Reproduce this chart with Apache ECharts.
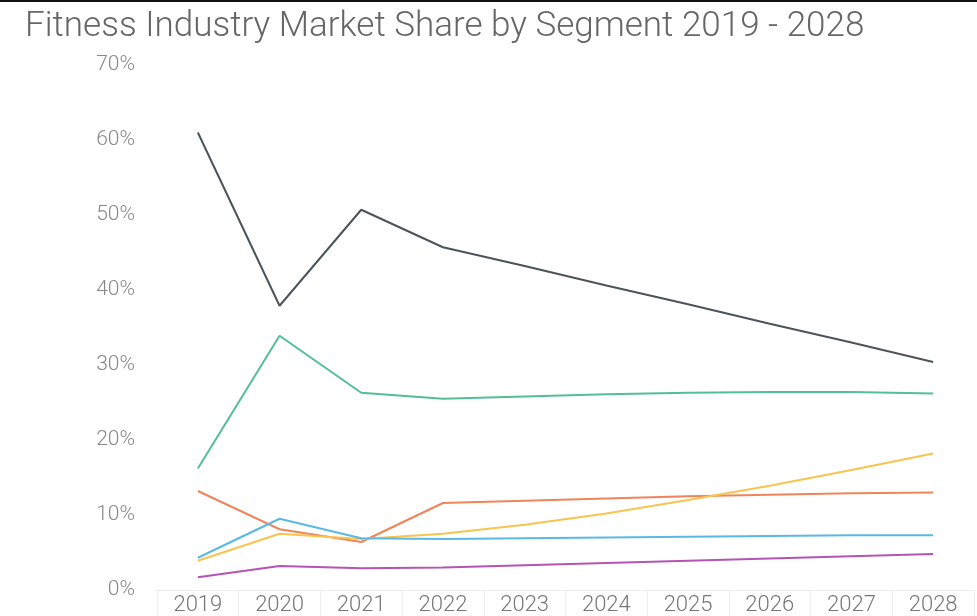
<!DOCTYPE html>
<html>
<head>
<meta charset="utf-8">
<script src="https://cdn.jsdelivr.net/npm/echarts@6/dist/echarts.min.js"></script>
<style>
  html, body { margin: 0; padding: 0; background: #fff; }
  body { border-top: 2px solid #111; }
  #main { width: 977px; height: 614px; }
</style>
</head>
<body>
<div id="main"></div>
<script>
// years on the x axis
const years = ['2019', '2020', '2021', '2022', '2023', '2024', '2025', '2026', '2027', '2028'];
// market share, percent
const darkSeg   = [61.0, 37.9, 50.7, 45.7, 43.2, 40.6, 38.1, 35.5, 33.0, 30.4];
const greenSeg  = [16.2, 33.9, 26.3, 25.5, 25.8, 26.1, 26.3, 26.4, 26.4, 26.2];
const orangeSeg = [13.2, 8.1, 6.4, 11.6, 11.9, 12.2, 12.5, 12.7, 12.9, 13.0];
const yellowSeg = [3.9, 7.5, 6.8, 7.5, 8.7, 10.2, 12.0, 13.9, 16.0, 18.2];
const blueSeg   = [4.3, 9.5, 6.9, 6.8, 6.9, 7.0, 7.1, 7.2, 7.3, 7.3];
const purpleSeg = [1.7, 3.2, 2.9, 3.0, 3.3, 3.6, 3.9, 4.2, 4.5, 4.8];

var chart = echarts.init(document.getElementById('main'));

const line = (name, data, color) => ({
    name: name,
    type: 'line',
    data: data,
    symbol: 'none',
    lineStyle: { width: 2, color: color },
    itemStyle: { color: color }
});

var option = {
    animation: false,
    title: {
        text: 'Fitness Industry Market Share by Segment 2019 - 2028',
        left: 20,
        top: 3,
        textStyle: {
            fontFamily: 'Roboto',
            fontWeight: 300,
            fontSize: 35,
            color: '#666'
        }
    },
    grid: { left: 157, right: 3, top: 63, bottom: 25 },
    xAxis: {
        type: 'category',
        data: years,
        boundaryGap: true,
        axisLine: { lineStyle: { color: '#eee' } },
        axisTick: { show: true, length: 26, lineStyle: { color: '#eee' } },
        axisLabel: {
            fontFamily: 'Roboto',
            fontWeight: 300,
            fontSize: 22,
            color: '#777',
            margin: 4
        },
        splitLine: { show: false }
    },
    yAxis: {
        type: 'value',
        min: 0,
        max: 70,
        interval: 10,
        axisLine: { show: false },
        axisTick: { show: false },
        splitLine: { show: false },
        axisLabel: {
            formatter: '{value}%',
            fontFamily: 'Roboto',
            fontWeight: 300,
            fontSize: 21,
            color: '#888',
            margin: 22
        }
    },
    series: [
        line('Segment A', darkSeg, '#4b5559'),
        line('Segment B', greenSeg, '#52bf96'),
        line('Segment C', orangeSeg, '#f0845a'),
        line('Segment D', yellowSeg, '#f8c44e'),
        line('Segment E', blueSeg, '#5ab9e2'),
        line('Segment F', purpleSeg, '#b454b6')
    ]
};

option && chart.setOption(option);
</script>
</body>
</html>
